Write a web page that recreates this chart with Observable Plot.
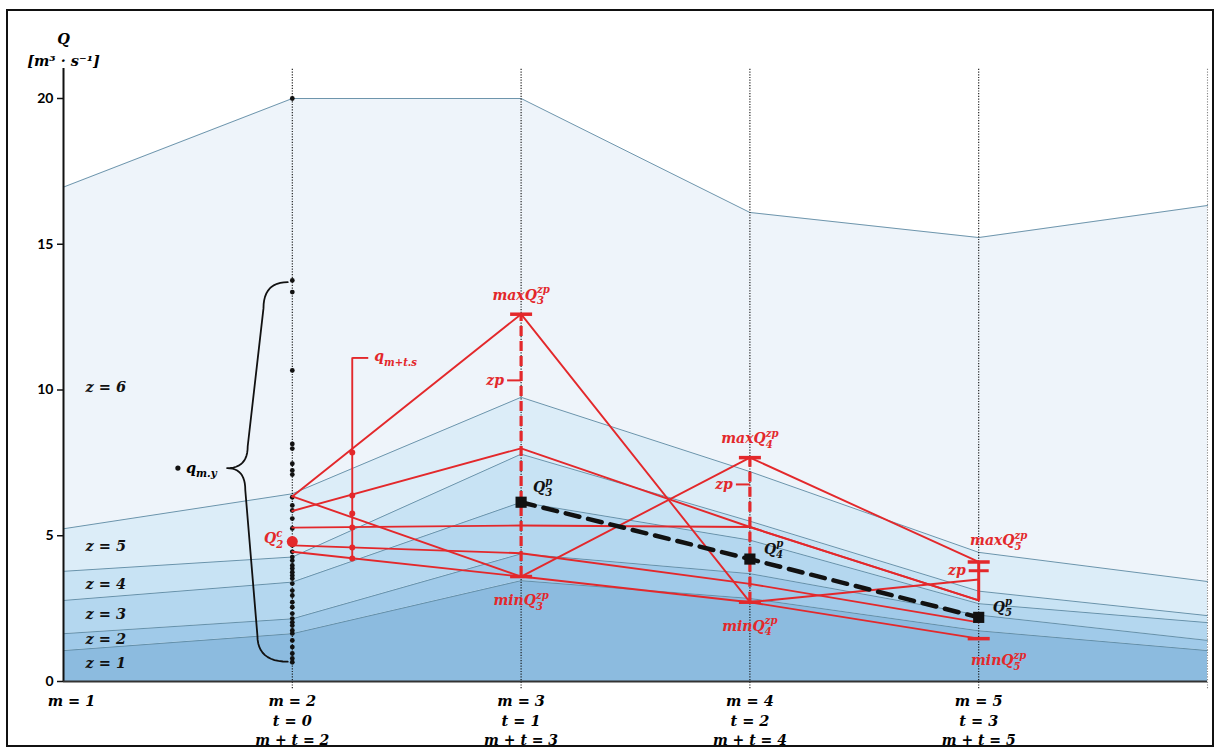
<!DOCTYPE html>
<html><head><meta charset="utf-8">
<script src="https://cdn.jsdelivr.net/npm/d3@7"></script>
<script src="https://cdn.jsdelivr.net/npm/@observablehq/plot@0.6"></script>
<style>
html,body{margin:0;padding:0;background:#fff;}
#wrap{position:relative;width:1217px;height:749px;overflow:hidden;}
#wrap svg{position:absolute;left:0;top:0;}
#border{position:absolute;left:6px;top:9px;width:1208px;height:738px;box-sizing:border-box;border:2px solid #111;pointer-events:none;z-index:2;}
</style></head><body>
<div id="wrap"></div>
<script>
// ---------- data ----------
const mSteps = [1, 2, 3, 4, 5, 6];
const zoneNames = ["z = 1", "z = 2", "z = 3", "z = 4", "z = 5", "z = 6"];
const zoneLabelY = [0.62, 1.44, 2.3, 3.33, 4.63, 10.1];
const zoneFill = ["#8cbbdf", "#a0cae9", "#b4d7ef", "#c8e3f4", "#dcedf8", "#eef4fa"];
// upper boundary of each zone at m = 1..6
const bound1 = [1.06, 1.64, 3.46, 2.85, 1.74, 1.06];
const bound2 = [1.64, 2.15, 4.38, 3.70, 2.28, 1.41];
const bound3 = [2.78, 3.41, 6.15, 4.85, 2.67, 2.02];
const bound4 = [3.78, 4.27, 7.80, 5.50, 3.10, 2.26];
const bound5 = [5.24, 6.44, 9.75, 7.20, 4.43, 3.43];
const bound6 = [16.96, 20.0, 20.0, 16.09, 15.23, 16.33];

// observed flows q_{m.y} at m = 2
const qmy = [20.0, 13.76, 13.36, 10.67, 8.15, 7.99, 7.47, 7.24, 7.1, 6.32, 6.04, 5.87, 5.59, 5.25,
  4.84, 4.67, 4.45, 4.27, 4.15, 3.98, 3.88, 3.75, 3.64, 3.53, 3.36, 3.12, 2.95, 2.72, 2.55, 2.33,
  2.16, 2.03, 1.92, 1.75, 1.65, 1.41, 1.18, 0.96, 0.79, 0.66];
const braceRange = [0.68, 13.7];
const qmyLabel = {m: 1.5, q: 7.32};

// forecast scenarios at m + t = 2..5
const tSteps = [2, 3, 4, 5];
const scen1 = [6.35, 12.6, 2.72, 3.5];
const scen2 = [6.35, 3.6, 7.68, 4.1];
const scen3 = [5.85, 8.0, 5.3, 2.78];
const scen4 = [5.28, 5.35, 5.3, 2.78];
const scen5 = [4.67, 4.4, 3.35, 2.03];
const scen6 = [4.45, 3.6, 2.72, 1.47];
const scenarios = [scen1, scen2, scen3, scen4, scen5, scen6];

// q_{m+t.s} cross section
const qCrossX = 2.262;
const qCross = [7.86, 6.38, 5.76, 5.28, 4.6, 4.22];
const qLineTop = 11.1;

const Q2c = 4.8;
const predSteps = [3, 4, 5];
const Qp = [6.15, 4.2, 2.2];
const zp = [10.33, 6.76, 3.8];
const rangeLow = [3.6, 2.72, 2.78]; // lower end of the red vertical bar

const yTicks = [0, 5, 10, 15, 20];
const axisTop = 21.03;
const xLabelM = ["m = 1", "m = 2", "m = 3", "m = 4", "m = 5"];
const xLabelT = ["", "t = 0", "t = 1", "t = 2", "t = 3"];
const xLabelMT = ["", "m + t = 2", "m + t = 3", "m + t = 4", "m + t = 5"];

// ---------- build tables ----------
const RED = "#e3282b";
const bounds = [mSteps.map(() => 0), bound1, bound2, bound3, bound4, bound5, bound6];
const zoneRows = mSteps.flatMap((m, i) => zoneNames.map((z, k) => ({m, z: k, lo: bounds[k][i], hi: bounds[k + 1][i]})));
const lineRows = mSteps.flatMap((m, i) => [1, 2, 3, 4, 5, 6].map(k => ({m, k, q: bounds[k][i]})));
const scenRows = scenarios.flatMap((s, k) => tSteps.map((t, i) => ({t, q: s[i], s: k})));
const rangeRows = predSteps.map((m, i) => {
  const vals = scenarios.map(s => s[tSteps.indexOf(m)]);
  return {m, hi: d3.max(vals), lo: d3.min(vals), bar: rangeLow[i], zp: zp[i], qp: Qp[i]};
});
const capRows = rangeRows.flatMap(r => [{m: r.m, q: r.hi}, {m: r.m, q: r.lo}]);
const rangeA = rangeRows.filter(d => d.m < 5);   // m = 3, 4
const rangeB = rangeRows.filter(d => d.m === 5); // m = 5
const xRows = xLabelM.map((s, i) => ({m: mSteps[i], a: s, b: xLabelT[i], c: xLabelMT[i]}));

// brace built from the range of q_{m.y}
function bracePoints(xEnd, depth, yBot, yMid, yTop) {
  const quad = (p0, p1, p2, n = 12) => d3.range(n + 1).map(i => {
    const t = i / n, a = (1 - t) * (1 - t), b = 2 * (1 - t) * t, c = t * t;
    return [a * p0[0] + b * p1[0] + c * p2[0], a * p0[1] + b * p1[1] + c * p2[1]];
  });
  const xt = xEnd - depth, qT = 0.9, qM = 0.75;
  const xa = xEnd - 0.4 * depth, xb = xEnd - 0.66 * depth, xc = xEnd - 0.7 * depth, xd = xEnd - 0.5 * depth;
  return [
    ...quad([xEnd, yTop], [xa, yTop], [xa, yTop - qT]),
    ...quad([xb, yMid + qM], [xb, yMid], [xt, yMid]),
    ...quad([xt, yMid], [xc, yMid], [xc, yMid - qM]),
    ...quad([xd, yBot + qT], [xd, yBot], [xEnd, yBot])
  ].map(([m, q]) => ({m, q}));
}
const braceRows = bracePoints(1.98, 0.265, braceRange[0], qmyLabel.q, braceRange[1]);

// custom tick symbols
const hbar = {draw(c, s) { const r = Math.sqrt(s / Math.PI); c.moveTo(-r, 0); c.lineTo(r, 0); }};
const leftTick = {draw(c, s) { const r = Math.sqrt(s / Math.PI); c.moveTo(-r, 0); c.lineTo(0, 0); }};
const rightTick = {draw(c, s) { const r = Math.sqrt(s / Math.PI); c.moveTo(0, 0); c.lineTo(r, 0); }};

const serif = "'DejaVu Serif', serif";
const mathText = {fontFamily: serif, fontWeight: "bold", fontStyle: "italic", fontSize: 14};

const chart = Plot.plot({
  width: 1217, height: 749,
  marginLeft: 63, marginRight: 10, marginTop: 98, marginBottom: 68,
  x: {domain: [1, 6], axis: null},
  y: {domain: [0, 20], axis: null},
  style: {fontFamily: serif, fontSize: "13px", background: "transparent", overflow: "visible"},
  marks: [
    // zones
    ...zoneNames.map((z, k) => Plot.areaY(zoneRows.filter(d => d.z === k), {x: "m", y1: "lo", y2: "hi", fill: zoneFill[k]})),
    Plot.line(lineRows, {x: "m", y: "q", z: "k", stroke: "#5f8aa3", strokeWidth: 0.9}),
    // verticals
    Plot.ruleX([2, 3, 4, 5], {y1: -0.25, y2: axisTop, stroke: "#111", strokeWidth: 1.1, strokeDasharray: "1.2,1.5"}),
    Plot.ruleX([6], {y1: -0.25, y2: axisTop, stroke: "#888", strokeWidth: 1.1, strokeDasharray: "1.2,1.5"}),
    // axes
    Plot.ruleX([1], {y1: 0, y2: axisTop, stroke: "#111", strokeWidth: 2}),
    Plot.ruleY([0], {x1: 1, x2: 6, stroke: "#333", strokeWidth: 2}),
    Plot.axisY(yTicks, {tickSize: 6, tickPadding: 4, label: null, fontFamily: "Lato, 'Open Sans', sans-serif", fontWeight: "bold", fontSize: 14, stroke: "#111", strokeWidth: 1.5}),
    Plot.text(["Q"], {frameAnchor: "top-left", dy: -65, textAnchor: "middle", ...mathText, fontSize: 14.5}),
    Plot.text(["[m³ · s⁻¹]"], {frameAnchor: "top-left", dy: -43, textAnchor: "middle", ...mathText, fontSize: 14.5}),
    // x labels
    Plot.text(xRows.filter(d => d.m === 1), {x: "m", y: 0, text: "a", dy: 20, dx: 8, ...mathText, fontSize: 14.5}),
    Plot.text(xRows.filter(d => d.m > 1), {x: "m", y: 0, text: "a", dy: 20, ...mathText, fontSize: 14.5}),
    Plot.text(xRows, {x: "m", y: 0, text: "b", dy: 40, ...mathText, fontSize: 14.5}),
    Plot.text(xRows, {x: "m", y: 0, text: "c", dy: 59, ...mathText, fontSize: 14}),
    // zone labels
    Plot.text(zoneNames, {frameAnchor: "left", y: (d, i) => zoneLabelY[i], dx: 22, textAnchor: "start", ...mathText, fontSize: 14.5, fill: "#111"}),
    // brace and observed points
    Plot.line(braceRows, {x: "m", y: "q", stroke: "#111", strokeWidth: 1.8, curve: "linear"}),
    Plot.dot([qmyLabel], {x: "m", y: "q", r: 2.6, fill: "#111"}),
    Plot.text([qmyLabel], {x: "m", y: "q", text: () => "q_{m.y}", dx: 8, textAnchor: "start", ...mathText, fontSize: 14.5}),
    Plot.dot(qmy, {x: 2, y: d => d, r: 2.4, fill: "#111"}),
    // scenarios
    Plot.line(scenRows, {x: "t", y: "q", z: "s", stroke: RED, strokeWidth: 1.9}),
    Plot.ruleX([qCrossX], {y1: d3.min(qCross), y2: qLineTop, stroke: RED, strokeWidth: 1.9}),
    Plot.dot([qLineTop], {x: qCrossX, y: d => d, symbol: rightTick, r: 16, stroke: RED, strokeWidth: 1.9, fill: "none"}),
    Plot.text([qLineTop], {x: qCrossX, y: d => d, text: () => "q_{m+t.s}", dx: 22, dy: -1, textAnchor: "start", ...mathText, fill: RED}),
    Plot.dot(qCross, {x: qCrossX, y: d => d, r: 3, fill: RED}),
    Plot.dot([Q2c], {x: 2, y: d => d, r: 5.5, fill: RED}),
    Plot.text([Q2c], {x: 2, y: d => d, text: () => "Q_{2}^{c}", dx: -9, dy: -3, textAnchor: "end", ...mathText, fill: RED}),
    // ranges
    Plot.ruleX(rangeA, {x: "m", y1: "lo", y2: "hi", stroke: RED, strokeWidth: 3.2, strokeDasharray: "10,5"}),
    Plot.ruleX(rangeB, {x: "m", y1: "bar", y2: "hi", stroke: RED, strokeWidth: 3}),
    Plot.dot(capRows, {x: "m", y: "q", symbol: hbar, r: 11, stroke: RED, strokeWidth: 3.5, fill: "none"}),
    Plot.dot(rangeA, {x: "m", y: "zp", symbol: leftTick, r: 14, stroke: RED, strokeWidth: 2, fill: "none"}),
    Plot.dot(rangeB, {x: "m", y: "zp", symbol: hbar, r: 10, stroke: RED, strokeWidth: 3, fill: "none"}),
    Plot.text(rangeA, {x: "m", y: "zp", text: () => "zp", dx: -17, textAnchor: "end", ...mathText, fill: RED}),
    Plot.text(rangeB, {x: "m", y: "zp", text: () => "zp", dx: -13, textAnchor: "end", ...mathText, fill: RED}),
    Plot.text(rangeA, {x: "m", y: "hi", text: d => `maxQ_{${d.m}}^{zp}`, dy: -19, ...mathText, fill: RED}),
    Plot.text(rangeB, {x: "m", y: "hi", text: d => `maxQ_{${d.m}}^{zp}`, dx: 20, dy: -21, ...mathText, fill: RED}),
    Plot.text(rangeA, {x: "m", y: "lo", text: d => `minQ_{${d.m}}^{zp}`, dy: 24, ...mathText, fill: RED}),
    Plot.text(rangeB, {x: "m", y: "lo", text: d => `minQ_{${d.m}}^{zp}`, dx: 20, dy: 22, ...mathText, fill: RED}),
    // predicted
    Plot.line(rangeRows, {x: "m", y: "qp", stroke: "#111", strokeWidth: 4.5, strokeDasharray: "14,9"}),
    Plot.dot(rangeRows, {x: "m", y: "qp", symbol: "square", r: 6.3, fill: "#111"}),
    Plot.text(rangeA.filter(d => d.m === 3), {x: "m", y: "qp", text: d => `Q_{${d.m}}^{p}`, dx: 12, dy: -15, textAnchor: "start", ...mathText, fill: "#111"}),
    Plot.text(rangeRows.filter(d => d.m > 3), {x: "m", y: "qp", text: d => `Q_{${d.m}}^{p}`, dx: 14, dy: -10, textAnchor: "start", ...mathText, fill: "#111"})
  ]
});

const wrap = document.getElementById("wrap");
wrap.appendChild(chart);
const border = document.createElement("div");
border.id = "border";
wrap.appendChild(border);

// render _{sub} and ^{sup} as stacked tspans
const NS = "http://www.w3.org/2000/svg";
for (const t of chart.querySelectorAll("text")) {
  const s = t.textContent;
  if (!/[_^]\{/.test(s)) continue;
  const m = s.match(/^(.*?)(?:_\{(.*?)\})?(?:\^\{(.*?)\})?$/);
  if (!m) continue;
  const fs = parseFloat(getComputedStyle(t).fontSize) || 14;
  t.textContent = m[1];
  let subW = 0;
  if (m[2] != null) {
    const ts = document.createElementNS(NS, "tspan");
    ts.textContent = m[2];
    ts.setAttribute("font-size", (fs * 0.72).toFixed(1));
    ts.setAttribute("dy", (fs * 0.32).toFixed(1));
    t.appendChild(ts);
    subW = ts.getComputedTextLength();
  }
  if (m[3] != null) {
    const ts = document.createElementNS(NS, "tspan");
    ts.textContent = m[3];
    ts.setAttribute("font-size", (fs * 0.72).toFixed(1));
    if (m[2] != null) ts.setAttribute("dx", (-subW).toFixed(1));
    ts.setAttribute("dy", (m[2] != null ? -fs * 0.78 : -fs * 0.45).toFixed(1));
    t.appendChild(ts);
  }
}
</script></body></html>
